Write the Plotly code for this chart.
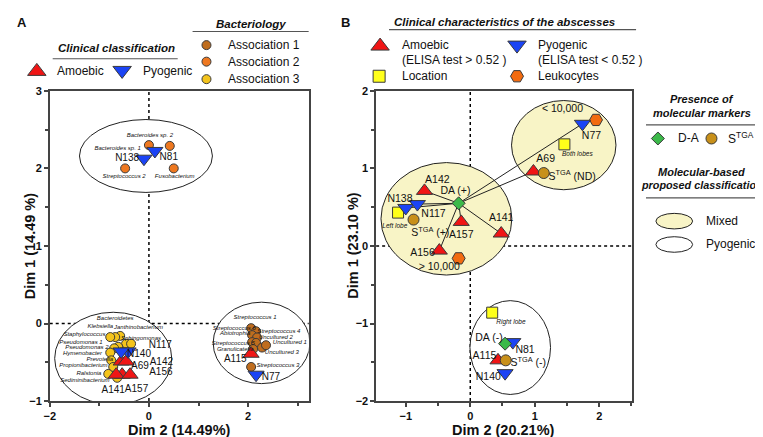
import plotly.graph_objects as go

FONT = "Arial, Liberation Sans, sans-serif"

# ---------------- Panel A data ----------------
a_amoebic_id = ["A69", "A142", "A156", "A141", "A157", "A115"]
a_amoebic_x = [-0.56, -0.46, -0.54, -0.66, -0.38, 2.06]
a_amoebic_y = [-0.49, -0.49, -0.66, -0.66, -0.66, -0.39]
a_amoebic_lx = [-0.18, 0.25, 0.24, -0.72, -0.25, 1.74]
a_amoebic_ly = [-0.55, -0.50, -0.63, -0.86, -0.85, -0.46]

a_pyogenic_id = ["N138", "N81", "N117", "N140", "N77"]
a_pyogenic_x = [-0.10, 0.12, -0.42, -0.56, 2.16]
a_pyogenic_y = [2.125, 2.225, -0.36, -0.36, -0.66]
a_pyogenic_lx = [-0.44, 0.40, 0.23, -0.20, 2.46]
a_pyogenic_ly = [2.125, 2.14, -0.29, -0.40, -0.69]

assoc1_taxa = ["Streptococcus 1", "Streptococcus 4", "Streptococcus 6", "Abiotrophia",
               "Streptococcus 5", "Uncultured 2", "Granulicatella", "Uncultured 3",
               "Uncultured 1", "Streptococcus 3"]
assoc1_x = [2.06, 2.16, 2.08, 2.18, 2.08, 2.16, 2.10, 2.28, 2.36, 2.06]
assoc1_y = [-0.06, -0.10, -0.15, -0.18, -0.24, -0.25, -0.33, -0.31, -0.28, -0.56]
assoc1_lx = [2.14, 2.62, 1.72, 1.74, 1.70, 2.56, 1.74, 2.68, 2.84, 2.60]
assoc1_ly = [0.075, -0.10, -0.06, -0.125, -0.26, -0.18, -0.34, -0.375, -0.25, -0.54]

assoc2_taxa = ["Bacteroides sp. 1", "Bacteroides sp. 2", "Streptococcus 2", "Fusobacterium"]
assoc2_x = [0.00, 0.42, -0.48, 0.50]
assoc2_y = [2.30, 2.29, 2.00, 2.00]
assoc2_lx = [-0.63, 0.02, -0.50, 0.52]
assoc2_ly = [2.26, 2.43, 1.90, 1.90]

assoc3_taxa = ["Bacteroidetes", "Klebsiella", "Janthinobacterium", "Staphylococcus",
               "Sphingomonas", "Pseudomonas 1", "Pseudomonas 2", "Hymenobacter",
               "Prevotella", "Propionibacterium", "Ralstonia", "Sediminibacterium"]
assoc3_x = [-0.58, -0.68, -0.46, -0.78, -0.36, -0.62, -0.70, -0.78, -0.76, -0.72, -0.82, -0.64]
assoc3_y = [-0.16, -0.175, -0.26, -0.175, -0.26, -0.30, -0.32, -0.375, -0.475, -0.56, -0.65, -0.70]
assoc3_lx = [-0.68, -0.98, -0.21, -1.30, -0.16, -1.37, -1.25, -1.34, -0.99, -1.32, -1.21, -1.29]
assoc3_ly = [0.06, -0.04, -0.055, -0.14, -0.19, -0.24, -0.31, -0.39, -0.46, -0.54, -0.64, -0.74]

# groups (ellipses) in panel A: centre x, centre y, width, height
a_group_cx = [-0.06, -0.72, 2.27]
a_group_cy = [2.16, -0.45, -0.25]
a_group_w = [2.68, 2.36, 1.95]
a_group_h = [0.94, 1.19, 1.05]

# ---------------- Panel B data ----------------
b_amoebic_id = ["A142", "A157", "A141", "A156", "A69", "A115"]
b_amoebic_x = [-0.71, -0.14, 0.48, -0.48, 0.98, 0.43]
b_amoebic_y = [0.71, 0.31, 0.16, -0.06, 0.96, -1.475]
b_amoebic_lx = [-0.51, -0.14, 0.48, -0.74, 1.17, 0.22]
b_amoebic_ly = [0.85, 0.14, 0.35, -0.10, 1.11, -1.43]

b_pyogenic_id = ["N138", "N117", "N77", "N81", "N140"]
b_pyogenic_x = [-1.00, -0.82, 1.74, 0.66, 0.54]
b_pyogenic_y = [0.49, 0.54, 1.575, -1.24, -1.64]
b_pyogenic_lx = [-1.09, -0.57, 1.88, 0.85, 0.28]
b_pyogenic_ly = [0.60, 0.41, 1.41, -1.34, -1.70]

location_id = ["Left lobe", "Both lobes", "Right lobe"]
location_x = [-1.12, 1.46, 0.34]
location_y = [0.43, 1.31, -0.86]
location_lx = [-1.17, 1.66, 0.63]
location_ly = [0.25, 1.175, -0.99]

leuko_id = ["> 10,000", "< 10,000"]
leuko_x = [-0.18, 1.95]
leuko_y = [-0.16, 1.625]
leuko_lx = [-0.48, 1.43]
leuko_ly = [-0.275, 1.76]

da_id = ["DA (+)", "DA (-)"]
da_x = [-0.18, 0.54]
da_y = [0.55, -1.26]
da_lx = [-0.23, 0.29]
da_ly = [0.71, -1.19]

stga_id = ["S<sup>TGA</sup> (+)", "S<sup>TGA</sup> (ND)", "S<sup>TGA</sup> (-)"]
stga_x = [-0.88, 1.14, 0.55]
stga_y = [0.34, 0.94, -1.475]
stga_lx = [-0.62, 1.58, 0.90]
stga_ly = [0.16, 0.89, -1.52]

# samples linked to the DA (+) marker
da_links = ["A142", "N138", "N117", "A157", "A141", "A156", "A69", "N77"]

# molecular-based classification ellipses: centre x, centre y, width, height, class
b_group_cx = [-0.37, 1.45, 0.62]
b_group_cy = [0.35, 1.30, -1.31]
b_group_w = [2.03, 1.62, 1.25]
b_group_h = [1.45, 1.15, 1.21]
b_group_cls = ["Mixed", "Mixed", "Pyogenic"]

# ---------------- styles ----------------
RED = "#f01515"
BLUE = "#1b44f5"
YEL = "#ffff1a"
HEX = "#f26b10"
GREEN = "#3cb94a"
STGA = "#c8901a"
AS1 = "#bf6d1e"
AS2 = "#ee7820"
AS3 = "#f4c41c"
MIXED = "#f8f4c6"
OUT = dict(color="#3a3a3a", width=1)

fig = go.Figure()

def markers(x, y, sym, color, size, xa, ya, line=OUT):
    fig.add_trace(go.Scatter(x=x, y=y, mode="markers", xaxis=xa, yaxis=ya,
                             marker=dict(symbol=sym, color=color, size=size, line=line),
                             hoverinfo="skip", showlegend=False))

def labels(x, y, txt, size, xa, ya, italic=False):
    fig.add_trace(go.Scatter(x=x, y=y, mode="text", text=txt, xaxis=xa, yaxis=ya,
                             textposition="middle center",
                             textfont=dict(family=FONT, size=size, color="#111",
                                           style="italic" if italic else "normal"),
                             hoverinfo="skip", showlegend=False))

# ---- Panel A ----
for cx, cy, w, h in zip(a_group_cx, a_group_cy, a_group_w, a_group_h):
    fig.add_shape(type="circle", xref="x", yref="y", x0=cx - w / 2, x1=cx + w / 2,
                  y0=cy - h / 2, y1=cy + h / 2, line=dict(color="#222", width=1),
                  fillcolor="white", layer="below")
markers(assoc1_x, assoc1_y, "circle", AS1, 9, "x", "y")
markers(assoc2_x, assoc2_y, "circle", AS2, 9, "x", "y")
markers(assoc3_x, assoc3_y, "circle", AS3, 9, "x", "y")
markers(a_amoebic_x, a_amoebic_y, "triangle-up", RED, 14, "x", "y")
markers(a_pyogenic_x, a_pyogenic_y, "triangle-down", BLUE, 14, "x", "y")
labels(assoc1_lx, assoc1_ly, assoc1_taxa, 6, "x", "y", italic=True)
labels(assoc2_lx, assoc2_ly, assoc2_taxa, 6, "x", "y", italic=True)
labels(assoc3_lx, assoc3_ly, assoc3_taxa, 6, "x", "y", italic=True)
labels(a_amoebic_lx, a_amoebic_ly, a_amoebic_id, 10, "x", "y")
labels(a_pyogenic_lx, a_pyogenic_ly, a_pyogenic_id, 10, "x", "y")

# ---- Panel B ----
for cx, cy, w, h, c in zip(b_group_cx, b_group_cy, b_group_w, b_group_h, b_group_cls):
    fig.add_shape(type="circle", xref="x2", yref="y2", x0=cx - w / 2, x1=cx + w / 2,
                  y0=cy - h / 2, y1=cy + h / 2, line=dict(color="#222", width=1),
                  fillcolor=MIXED if c == "Mixed" else "white", layer="below")

# dotted reference lines
for xa, ya in [("x", "y"), ("x2", "y2")]:
    fig.add_shape(type="line", xref=xa, yref=ya + " domain", x0=0, x1=0, y0=0, y1=1,
                  line=dict(color="black", width=1.5, dash="dot"), layer="below")
    fig.add_shape(type="line", xref=xa + " domain", yref=ya, x0=0, x1=1, y0=0, y1=0,
                  line=dict(color="black", width=1.5, dash="dot"), layer="below")

all_id = b_amoebic_id + b_pyogenic_id
all_x = b_amoebic_x + b_pyogenic_x
all_y = b_amoebic_y + b_pyogenic_y
lx, ly = [], []
for name in da_links:
    i = all_id.index(name)
    lx += [da_x[0], all_x[i], None]
    ly += [da_y[0], all_y[i], None]
fig.add_trace(go.Scatter(x=lx, y=ly, mode="lines", xaxis="x2", yaxis="y2",
                         line=dict(color="#222", width=1), hoverinfo="skip", showlegend=False))

markers(location_x, location_y, "square", YEL, 11, "x2", "y2")
markers(leuko_x, leuko_y, "hexagon2", HEX, 13, "x2", "y2")
markers(b_amoebic_x, b_amoebic_y, "triangle-up", RED, 14, "x2", "y2")
markers(b_pyogenic_x, b_pyogenic_y, "triangle-down", BLUE, 14, "x2", "y2")
markers(stga_x, stga_y, "circle", STGA, 11, "x2", "y2")
markers(da_x, da_y, "diamond", GREEN, 10, "x2", "y2")

labels(b_amoebic_lx, b_amoebic_ly, b_amoebic_id, 10.5, "x2", "y2")
labels(b_pyogenic_lx, b_pyogenic_ly, b_pyogenic_id, 10.5, "x2", "y2")
labels(location_lx, location_ly, location_id, 6.5, "x2", "y2", italic=True)
labels(leuko_lx, leuko_ly, leuko_id, 10.5, "x2", "y2")
labels(da_lx, da_ly, da_id, 10.5, "x2", "y2")
labels(stga_lx, stga_ly, stga_id, 10.5, "x2", "y2")

# ---------------- legends (overlay, pixel coordinates) ----------------
def lg_marker(px, py, sym, color, size):
    markers([px], [py], sym, color, size, "x3", "y3")

def txt(px, py, s, size=12, anchor="left", bold=False, italic=False, angle=0):
    if bold:
        s = "<b>" + s + "</b>"
    if italic:
        s = "<i>" + s + "</i>"
    fig.add_annotation(x=px, y=py, xref="x3", yref="y3", text=s, showarrow=False,
                       xanchor=anchor, yanchor="middle", textangle=angle,
                       font=dict(family=FONT, size=size, color="#111"))

def hline(x0, x1, y):
    fig.add_shape(type="line", xref="x3", yref="y3", x0=x0, x1=x1, y0=y, y1=y,
                  line=dict(color="#555", width=1.2))

txt(8, 9, "A", 13, "center", bold=True)
txt(334, 9, "B", 13, "center", bold=True)

txt(103, 35, "Clinical classification", 11.5, "center", bold=True, italic=True)
hline(39, 165, 46)
lg_marker(23, 59, "triangle-up", RED, 16)
txt(41, 59, "Amoebic", 12)
lg_marker(109, 58, "triangle-down", BLUE, 16)
txt(128, 59, "Pyogenic", 12)

txt(239, 10, "Bacteriology", 11.5, "center", bold=True, italic=True)
hline(180, 297, 18)
for yy, col, name in [(32, AS1, "Association 1"), (49, AS2, "Association 2"), (67, AS3, "Association 3")]:
    lg_marker(194, yy, "circle", col, 9)
    txt(214, yy, name, 12)

txt(494, 8, "Clinical characteristics of the abscesses", 11.5, "center", bold=True, italic=True)
hline(378, 627, 16)
lg_marker(369, 33, "triangle-up", RED, 16)
txt(389, 32, "Amoebic", 12)
txt(389, 47, "(ELISA test > 0.52 )", 12)
lg_marker(507, 32, "triangle-down", BLUE, 16)
txt(526, 32, "Pyogenic", 12)
txt(526, 47, "(ELISA test < 0.52 )", 12)
lg_marker(368, 64, "square", YEL, 12)
txt(389, 64, "Location", 12)
lg_marker(507, 64, "hexagon2", HEX, 13)
txt(526, 64, "Leukocytes", 12)

txt(693, 87, "Presence of", 11, "center", bold=True, italic=True)
txt(693, 102, "molecular markers", 11, "center", bold=True, italic=True)
hline(637, 752, 114)
lg_marker(649, 128, "diamond", GREEN, 10)
txt(667, 128, "D-A", 12)
lg_marker(703, 128, "circle", STGA, 11)
txt(718, 128, "S<sup>TGA</sup>", 12)
txt(693, 162, "Molecular-based", 11, "center", bold=True, italic=True)
txt(693, 176, "proposed classification", 10.8, "center", bold=True, italic=True)
hline(637, 752, 189)
fig.add_shape(type="circle", xref="x3", yref="y3", x0=647, x1=684, y0=205, y1=221,
              line=dict(color="#222", width=1), fillcolor=MIXED)
txt(695, 213, "Mixed", 12)
fig.add_shape(type="circle", xref="x3", yref="y3", x0=647, x1=684, y0=229, y1=245,
              line=dict(color="#222", width=1), fillcolor="white")
txt(695, 237, "Pyogenic", 12)

# axis titles
txt(167, 427.5, "Dim 2 (14.49%)", 14.5, "center", bold=True)
txt(493, 427.5, "Dim 2 (20.21%)", 14.5, "center", bold=True)
txt(17, 238, "Dim 1 (14.49 %)", 14.5, "center", bold=True, angle=-90)
txt(342, 238, "Dim 1 (23.10 %)", 14.5, "center", bold=True, angle=-90)

# ---------------- axes ----------------
W, H = 763, 437
def dom_x(a, b):
    return [a / W, b / W]
def dom_y(top, bottom):
    return [1 - bottom / H, 1 - top / H]

axis_common = dict(showgrid=False, zeroline=False, showline=True, mirror=True,
                   linecolor="#444", linewidth=1.5, ticks="outside", ticklen=4,
                   tickwidth=1.5, tickcolor="#444",
                   tickfont=dict(family=FONT, size=11, color="#111", weight="bold"),
                   fixedrange=True)

fig.update_layout(
    width=W, height=H, margin=dict(l=0, r=0, t=0, b=0),
    paper_bgcolor="white", plot_bgcolor="rgba(0,0,0,0)",
    xaxis=dict(domain=dom_x(36, 297), range=[-2, 3.22], tickvals=[-2, 0, 2],
               minor=dict(ticks="outside", ticklen=3, tickcolor="#444", dtick=1, tick0=-1),
               anchor="y", **axis_common),
    yaxis=dict(domain=dom_y(79, 398), range=[-1, 3], tickvals=[-1, 0, 1, 2, 3],
               minor=dict(ticks="outside", ticklen=3, tickcolor="#444", dtick=0.5, tick0=-1),
               anchor="x", **axis_common),
    xaxis2=dict(domain=dom_x(365, 623), range=[-1.46, 2.51], tickvals=[-1, 0, 1, 2],
                minor=dict(ticks="outside", ticklen=3, tickcolor="#444", dtick=0.5, tick0=-1),
                anchor="y2", **axis_common),
    yaxis2=dict(domain=dom_y(79, 398), range=[-2, 2], tickvals=[-2, -1, 0, 1, 2],
                minor=dict(ticks="outside", ticklen=3, tickcolor="#444", dtick=0.5, tick0=-2),
                anchor="x2", **axis_common),
    xaxis3=dict(domain=[0, 1], range=[0, W], visible=False, fixedrange=True, anchor="y3"),
    yaxis3=dict(domain=[0, 1], range=[H, 0], visible=False, fixedrange=True, anchor="x3"),
)

fig.write_html("out.html")
